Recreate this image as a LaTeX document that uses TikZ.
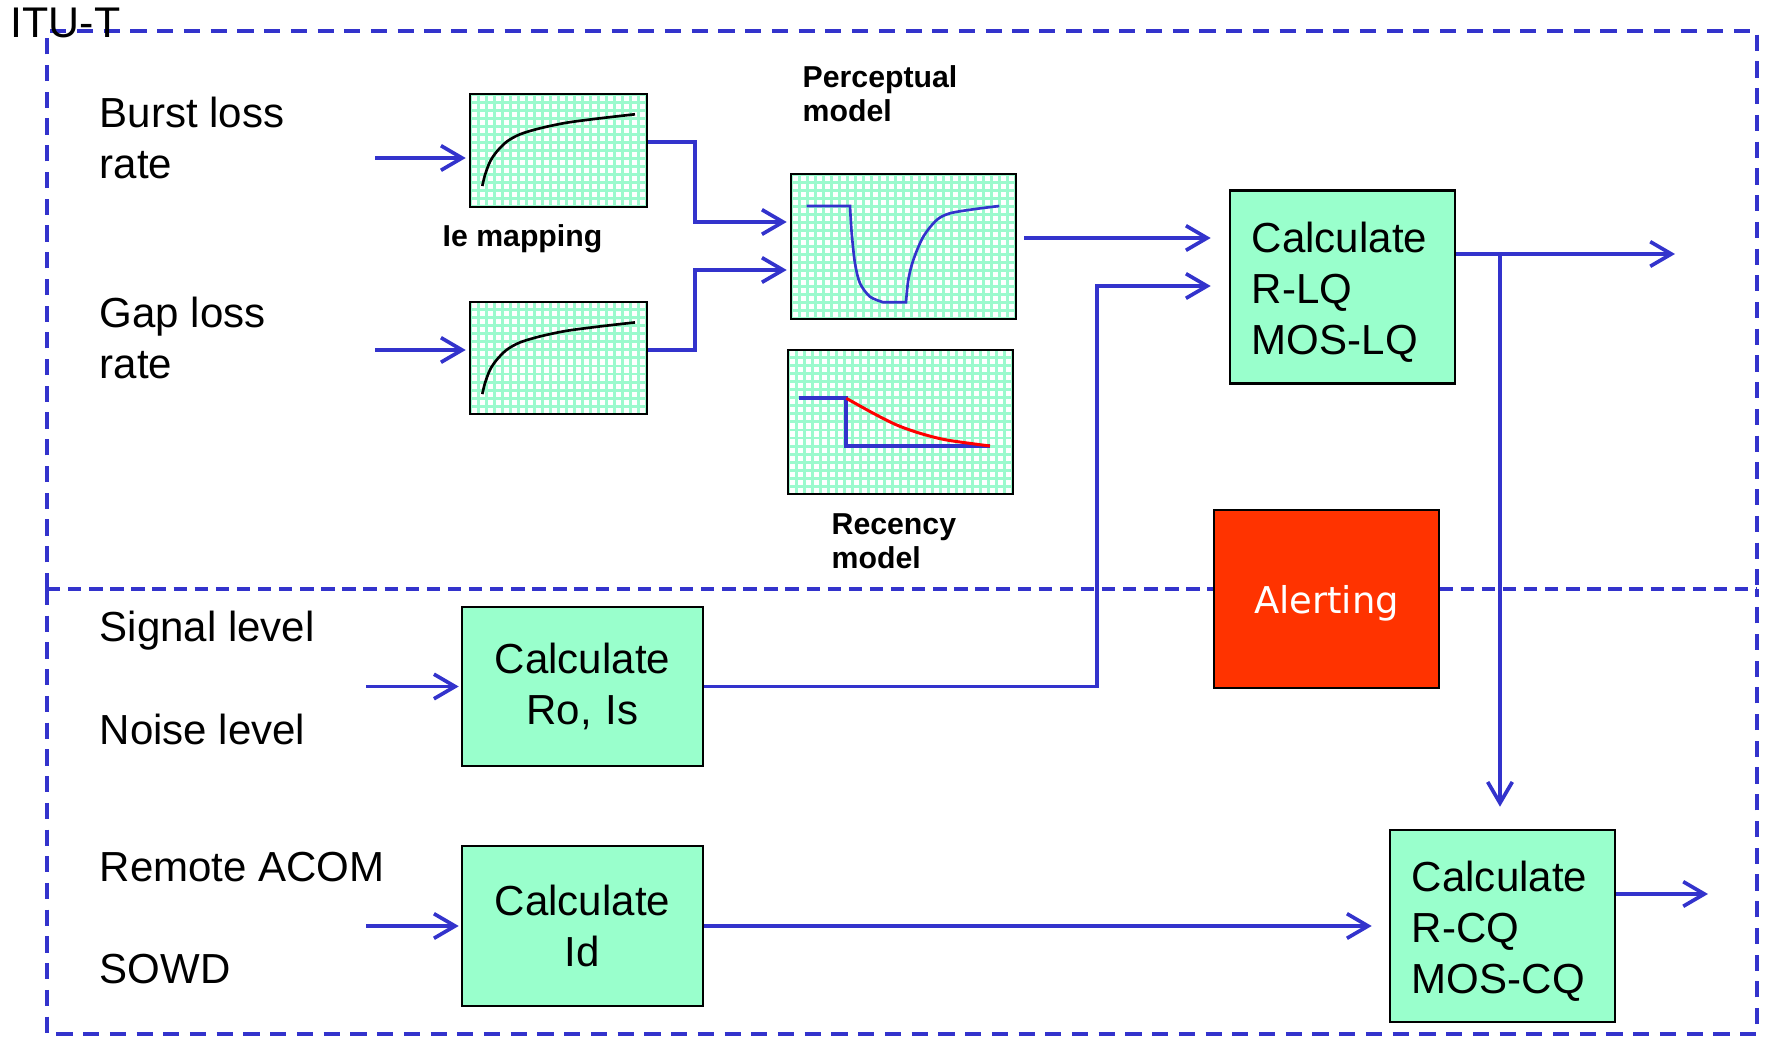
\documentclass[tikz,border=0pt]{standalone}
\usepackage{fontspec}
\setmainfont{Liberation Sans}
\newfontfamily\alertfont{DejaVu Sans}
\usetikzlibrary{arrows.meta}
\definecolor{lineblue}{RGB}{51,51,204}
\definecolor{mint}{RGB}{153,255,204}
\definecolor{alertred}{RGB}{255,51,0}
\definecolor{gridmint}{RGB}{155,250,205}
\newcommand\dgmmain{\fontsize{11.95pt}{14.5pt}\selectfont}
\newcommand\dgmsmall{\fontsize{8.6pt}{9.7pt}\selectfont}
\newcommand\dgmstrut{\rule{0pt}{0.40cm}}
\begin{document}
\begin{tikzpicture}[x=0.01cm,y=-0.01cm,
  conn/.style={draw=lineblue, line width=1.05pt, -{Straight Barb[length=6pt,width=7pt]}},
  frame/.style={draw=lineblue, line width=1.25pt, dash pattern=on 4.6pt off 3pt},
  middash/.style={draw=lineblue, line width=1.15pt, dash pattern=on 3.8pt off 2.2pt},
  calcbox/.style={draw=black, line width=0.7pt, fill=mint, font=\dgmmain, inner sep=0pt},
  lbl/.style={font=\dgmmain, inner sep=0pt, anchor=base west},
  lbltwo/.style={font=\dgmmain, inner sep=0pt, anchor=west, align=left},
  smalllbl/.style={font=\dgmsmall\bfseries, inner sep=0pt, align=left},
  chart/.style={draw=black, line width=0.7pt, fill=white, inner sep=0pt,
    path picture={\draw[gridmint, line width=0.85pt]
      (path picture bounding box.south west) grid[step=0.08cm]
      (path picture bounding box.north east);}},
  curve/.style={line width=0.75pt}
]
\useasboundingbox (0,0) rectangle (1765,1040);

% dashed frames
\draw[frame] (47,589) -- (47,31) -- (1757,31) -- (1757,589);
\draw[frame] (47,589) -- (47,1034) -- (1757,1034) -- (1757,589);
\draw[middash] (47,589) -- (1757,589);

% title
\node[lbl, font=\fontsize{12.2pt}{14pt}\selectfont] (itu) at (10,38) {ITU-T};

% input labels
\node[lbltwo] (burst) at (99,137.5) {Burst loss\\rate};
\node[lbltwo] (gap) at (99,338) {Gap loss\\rate};
\node[lbl] (signal) at (99,642) {Signal level};
\node[lbl] (noise) at (99,745) {Noise level};
\node[lbl] (remote) at (99,882) {Remote ACOM};
\node[lbl] (sowd) at (99,984) {SOWD};

% chart boxes
\node[chart, minimum width=1.77cm, minimum height=1.13cm] (ie1) at (558.5,150.5) {};
\node[chart, minimum width=1.77cm, minimum height=1.12cm] (ie2) at (558.5,358) {};
\node[chart, minimum width=2.25cm, minimum height=1.45cm] (perc) at (903.5,246.5) {};
\node[chart, minimum width=2.25cm, minimum height=1.44cm] (rec) at (900.5,422) {};

% chart curves
\draw[black, curve] plot[smooth] coordinates {(482.3,186) (485,175) (490,161.7) (496.7,151.7) (506.7,141.7) (520,134.3) (540,128.3) (566.7,122.7) (600,118.3) (635,114.3)};
\draw[black, curve, yshift=-2.08cm] plot[smooth] coordinates {(482.3,186) (485,175) (490,161.7) (496.7,151.7) (506.7,141.7) (520,134.3) (540,128.3) (566.7,122.7) (600,118.3) (635,114.3)};
\draw[lineblue, curve] (806.7,206) -- plot[smooth] coordinates {(850,206) (851.7,233.3) (855,263.3) (860,283.3) (870,296.7) (883.3,302.3)} -- (906,302.3) -- plot[smooth] coordinates {(906,302.3) (908.3,280) (913.3,260) (923.3,236.7) (936.7,220) (950,213.3) (973.3,209.3) (999.3,206)};
\draw[lineblue, line width=1pt] (799,398) -- (846,398) -- (846,446) -- (990,446);
\draw[red, line width=0.85pt] plot[smooth] coordinates {(846.3,398.3) (873.3,413.3) (896.7,425) (920,433.3) (946.7,440) (990,446)};

% small labels
\node[smalllbl, anchor=west] (perclbl) at (802,94) {Perceptual\\model};
\node[smalllbl, anchor=base west] (ielbl) at (442,247) {Ie mapping};
\node[smalllbl, anchor=west] (reclbl) at (831,541) {Recency\\model};

% calculation boxes
\node[calcbox, align=left, text width=1.81cm, inner xsep=0.22cm, minimum height=1.93cm] (rlq) at (1342.5,287) {\dgmstrut Calculate\\R-LQ\\MOS-LQ};
\node[calcbox, align=left, text width=1.81cm, inner xsep=0.22cm, minimum height=1.92cm] (rcq) at (1502.5,926) {\dgmstrut Calculate\\R-CQ\\MOS-CQ};
\node[calcbox, align=center, text width=2.41cm, minimum height=1.59cm] (ro) at (582.5,686.5) {Calculate\\Ro, Is};
\node[calcbox, align=center, text width=2.41cm, minimum height=1.60cm] (id) at (582.5,926) {Calculate\\Id};
\node[draw=black, line width=0.7pt, fill=alertred, text=white, inner sep=0pt,
  minimum width=2.25cm, minimum height=1.78cm, text depth=0pt,
  font=\alertfont\fontsize{10.5pt}{12pt}\selectfont] (alert) at (1326.5,599) {Alerting};

% helper coordinates
\coordinate (bin) at (375,158);
\coordinate (gin) at (375,350);
\coordinate (b1) at (695,142);
\coordinate (b2) at (695,222);
\coordinate (b3) at (695,350);
\coordinate (b4) at (695,270);
\coordinate (p1) at (1023,238);
\coordinate (r1) at (1097,686.5);
\coordinate (r2) at (1097,286);
\coordinate (o1) at (1675,254);
\coordinate (d1) at (1500,254);
\coordinate (o2) at (1708,894);
\coordinate (sin) at (366,686.5);
\coordinate (iin) at (366,926);

% connectors
\draw[conn, shorten >=0.03cm] (bin) -- (bin -| ie1.west);
\draw[conn, shorten >=0.03cm] (gin) -- (gin -| ie2.west);
\draw[conn, shorten >=0.03cm] (b1 -| ie1.east) -- (b1) -- (b2) -- (b2 -| perc.west);
\draw[conn, shorten >=0.03cm] (b3 -| ie2.east) -- (b3) -- (b4) -- (b4 -| perc.west);
\draw[conn, shorten <=0.07cm, shorten >=0.18cm] (p1 -| perc.east) -- (p1 -| rlq.west);
\draw[conn, shorten >=0.18cm] (ro.east) -- (r1) -- (r2) -- (r2 -| rlq.west);
\draw[conn] (o1 -| rlq.east) -- (o1);
\draw[conn, shorten >=0.22cm] (d1) -- (d1 |- rcq.north);
\draw[conn, shorten >=0.17cm] (id.east) -- (id.east -| rcq.west);
\draw[conn] (o2 -| rcq.east) -- (o2);
\draw[conn, shorten >=0.02cm] (sin) -- (ro.west);
\draw[conn, shorten >=0.02cm] (iin) -- (id.west);
\end{tikzpicture}
\end{document}
